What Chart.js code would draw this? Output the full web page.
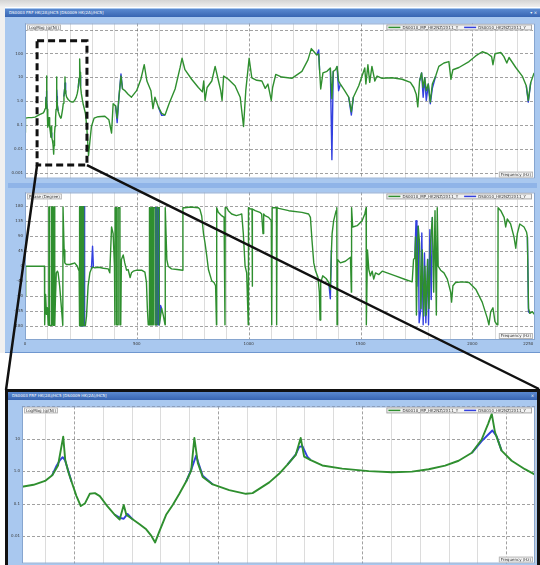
<!DOCTYPE html>
<html lang="en">
<head>
<meta charset="utf-8">
<title>FRF overlay</title>
<script src="https://cdn.jsdelivr.net/npm/chart.js@4.4.1/dist/chart.umd.min.js"></script>
<style>
  html, body { margin: 0; padding: 0; }
  body { width: 540px; height: 565px; overflow: hidden; background: #fff; position: relative; font-family: "DejaVu Sans", sans-serif; }
  .abs { position: absolute; }
  #topBand { left: 0; top: 0; width: 540px; height: 7px; background: linear-gradient(#d4d4d4, #efefef); }
  #sideBand { left: 0; top: 7px; width: 5px; height: 346px; background: #f0f0f0; }
  #win { left: 5px; top: 8px; width: 535px; height: 345px; background: #a9c8ef; border-bottom: 1px solid #6f97cf; box-sizing: border-box; }
  .bar { height: 8px; background: linear-gradient(#5a89d0, #3865b2); color: #fff; font-size: 4px; line-height: 8px; padding-left: 4px; box-sizing: border-box; white-space: nowrap; }
  .bar span { position: absolute; right: 3px; top: 0; }
  #winBar { left: 5px; top: 9px; width: 535px; }
  #sep { left: 8px; top: 183px; width: 529px; height: 5px; background: #8fb4e8; }
  #inset { left: 5px; top: 389px; width: 535px; height: 200px; border: 3px solid #111; background: #a9c8ef; box-sizing: border-box; }
  #insetBar { left: 8px; top: 392px; width: 529px; }
  #overlay { left: 0; top: 0; pointer-events: none; }
</style>
</head>
<body>
<div class="abs" id="topBand"></div>
<div class="abs" id="sideBand"></div>
<div class="abs" id="win"></div>
<div class="abs bar" id="winBar">DS0003 FRF HK(2A)/HC5 [DS0009 HK(2A)/HC5]<span>▾ ×</span></div>
<canvas class="abs" id="magChart" width="529" height="164" style="left:8px;top:19px"></canvas>
<div class="abs" id="sep"></div>
<canvas class="abs" id="phaseChart" width="529" height="163" style="left:8px;top:188px"></canvas>
<div class="abs" id="inset"></div>
<div class="abs bar" id="insetBar">DS0003 FRF HK(2A)/HC5 [DS0009 HK(2A)/HC5]<span>×</span></div>
<canvas class="abs" id="zoomChart" width="529" height="166" style="left:8px;top:402px"></canvas>
<canvas class="abs" id="overlay" width="540" height="565"></canvas>

<script>
// series names
const greenName = "DS0010_MP_HK2NZ/2X11_Y";
const blueName = "DS0010_HK2NZ/2X11_Y";

// LogMag trace (green), frequency in Hz
const magFreq = [
  0, 2, 15, 30, 45, 55, 65, 75, 82, 86,
  90, 92.5, 94.5, 96.3, 97, 98.1, 99.2, 100.9, 102.4, 103.8,
  105.5, 107.3, 109, 111.3, 114.2, 115.9, 117.3, 118.2, 120.5, 122.8,
  125.1, 126.9, 128.2, 129.7, 132, 134.3, 136.6, 138.9, 140.7, 141.8,
  143, 144.7, 148.2, 153.9, 159.7, 162, 167.8, 171.2, 174.1, 177,
  178.7, 179.9, 182.2, 186.2, 193.1, 202.3, 210.4, 217.3, 223.1, 228.8,
  233.5, 238.1, 241.5, 243.8, 245, 246.1, 248.4, 251.9, 256.5, 260.5,
  270, 276, 284, 291, 297, 309, 327, 357, 375, 387,
  394, 405, 412, 420, 429, 436, 447, 461, 476, 499,
  518, 533, 545, 563, 572, 581, 596, 611, 626, 644,
  671, 693, 702, 715, 745, 775, 793, 799, 805, 814,
  835, 850, 865, 875, 881, 888, 909, 939, 962, 977,
  987, 1002, 1014, 1036, 1059, 1074, 1086, 1101, 1107, 1121,
  1148, 1193, 1238, 1265, 1280, 1292, 1304, 1313, 1317, 1322,
  1332, 1350, 1365, 1372, 1378, 1388, 1395, 1402, 1410, 1429,
  1447, 1459, 1468, 1492, 1519, 1524, 1533, 1541, 1551, 1564,
  1574, 1596, 1641, 1686, 1723, 1738, 1749, 1756, 1764, 1773,
  1780, 1787, 1794, 1803, 1812, 1821, 1836, 1850, 1873, 1895,
  1904, 1913, 1940, 1985, 2015, 2044, 2067, 2086, 2092, 2101,
  2127, 2141, 2154, 2164, 2194, 2223, 2241, 2250, 2261, 2276
];
const magGreen = [
  0.05, 0.2, 0.21, 0.21, 0.22, 0.25, 0.28, 0.31, 0.33, 0.38,
  0.5, 0.75, 1.5, 11.6, 2.2, 0.93, 0.47, 0.17, 0.084, 0.1,
  0.2, 0.21, 0.17, 0.09, 0.045, 0.032, 0.09, 0.045, 0.032, 0.023,
  0.016, 0.01, 0.0063, 0.014, 0.045, 0.09, 0.2, 0.47, 1.04, 10.6,
  1.8, 0.66, 0.39, 0.26, 0.2, 0.21, 0.45, 0.83, 1.6, 3.2,
  10.6, 2.8, 2.2, 1.5, 1.2, 1.0, 0.93, 0.97, 1.15, 1.48,
  2.1, 3.7, 9.5, 30, 59, 16, 4.3, 2.1, 1.15, 0.74,
  0.32, 0.09, 0.0055, 0.026, 0.09, 0.2, 0.23, 0.24, 0.17, 0.048,
  0.8, 0.65, 0.2, 1.5, 11.4, 3.3, 2.8, 2.0, 1.5, 2.8,
  8.4, 34, 7.1, 2.8, 0.5, 1.5, 0.59, 0.32, 0.27, 0.8,
  3.3, 25, 63, 21, 8.4, 3.8, 2.5, 7.1, 1.1, 3.8,
  7.1, 29, 7.1, 2.8, 1.1, 11.4, 8.4, 4.5, 1.5, 0.09,
  2.8, 63, 9.7, 7.6, 7.1, 3.5, 5.3, 1.1, 3.8, 13.3,
  10.4, 9.2, 18, 54, 160, 118, 87, 95, 20, 3.3,
  15.5, 18, 25, 1.3, 18, 21, 29, 7.1, 5.3, 2.8,
  1.5, 0.37, 1.5, 4.5, 25, 5.3, 34, 6.2, 29, 7.1,
  11.4, 9.2, 9.7, 8.4, 6.2, 3.8, 2.0, 0.59, 7.1, 15.5,
  3.8, 9.7, 2.8, 5.3, 0.94, 5.3, 11.4, 29, 40, 46,
  8.4, 21, 26, 46, 79, 118, 100, 74, 34, 97,
  110, 74, 40, 68, 26, 11.4, 4.5, 1.1, 6.2, 15.5
];
// blue trace lies under the green one; only the stretches where it parts from it (null = gap)
const magBlueFreq = [
  92.5, 94, 95.2, 96.1, 96.9, 98.1, 99.2, null,
  114.2, 116, 117.3, 118.6, 120.5, null,
  138.9, 140.7, 142.4, 143.4, 144.7, 148.2, null,
  174.1, 177, 178.2, 179.3, 181, 182.2, null,
  238.1, 241.5, 243.8, 245.2, 246.7, 248.4, null,
  405, 412, 420, 429, 436, null,
  596, 611, 626, null,
  1304, 1313, 1317, null,
  1365, 1372, 1378, null,
  1395, 1402, 1410, null,
  1447, 1459, 1468, null,
  1764, 1773, 1780, 1787, 1794, 1803, 1812, 1821, 1836, null,
  2241, 2250, 2261
];
const magBlue = [
  0.75, 1.48, 2.2, 2.7, 2.2, 1.0, 0.47, null,
  0.045, 0.036, 0.034, 0.048, 0.032, null,
  0.47, 1.1, 3.0, 1.6, 0.72, 0.39, null,
  1.6, 3.3, 5.6, 5.9, 2.8, 2.2, null,
  3.7, 8.5, 13.6, 18, 12, 4.3, null,
  0.65, 0.13, 1.5, 14, 3.3, null,
  0.59, 0.26, 0.27, null,
  87, 140, 20, null,
  25, 0.0037, 18, null,
  29, 2.8, 5.3, null,
  1.5, 0.27, 1.5, null,
  7.1, 15.5, 1.5, 9.7, 1.1, 5.3, 0.8, 3.5, 11.4, null,
  4.5, 0.94, 6.2
];

// Phase trace (green), degrees
const phaseFreq = [
  0, 3, 20, 40, 60, 80, 87, 88, 92, 96,
  100, 104, 106, 107, 109, 110, 118, 119, 124, 125,
  128, 129, 132, 133, 136, 140, 145, 148, 155, 163,
  169, 170, 175, 178, 185, 200, 215, 222, 234, 240,
  242, 242.5, 243, 245, 245.5, 248, 248.5, 252, 252.5, 256,
  256.5, 262, 262.5, 270, 275, 282, 290, 297, 302, 312,
  330, 350, 372, 379, 383, 387, 394, 400, 402, 403,
  409, 409.5, 416, 416.5, 424, 424.5, 428, 431, 439, 446,
  454, 461, 470, 476, 484, 500, 521, 536, 543, 547,
  551, 556, 556.5, 559, 559.5, 565, 565.5, 569, 569.5, 573,
  573.5, 581, 581.5, 590, 590.5, 600, 600.5, 611, 618, 626,
  627, 634, 640, 655, 680, 705, 706, 715, 740, 775,
  782, 790, 798, 805, 812, 820, 835, 845, 852, 856,
  857, 864, 879, 890, 894, 895, 902, 909, 924, 945,
  960, 969, 976, 984, 991, 998, 999, 1008, 1015, 1016,
  1017, 1029, 1050, 1058, 1064, 1067, 1073, 1089, 1101, 1103,
  1105, 1124, 1125, 1127, 1134, 1179, 1238, 1268, 1276, 1283,
  1291, 1298, 1310, 1316, 1319, 1322, 1331, 1346, 1358, 1365,
  1370, 1373, 1380, 1391, 1394, 1395, 1397, 1410, 1432, 1455,
  1459, 1460, 1465, 1485, 1507, 1519, 1525, 1526, 1531, 1537,
  1544, 1552, 1559, 1567, 1582, 1597, 1656, 1700, 1731, 1737,
  1743, 1746, 1750, 1755, 1758, 1764, 1770, 1776, 1783, 1788,
  1794, 1800, 1806, 1813, 1821, 1827, 1833, 1839, 1843, 1847,
  1858, 1873, 1888, 1903, 1907, 1913, 1925, 1955, 1985, 2015,
  2044, 2067, 2074, 2082, 2092, 2101, 2110, 2114, 2115, 2127,
  2142, 2149, 2156, 2171, 2186, 2194, 2201, 2212, 2231, 2242,
  2246, 2251, 2257, 2268, 2280
];
const phaseGreen = [
  -90, 0, 0, 0, 0, 0, 0, -176, -85, -145,
  -125, -176, -178, 178, 178, -178, -178, 178, 178, -178,
  -178, 178, 178, -178, -100, -20, -15, -20, -60, -127,
  -178, 178, 49, 10, 5, 5, 8, 10, 0, -12,
  -14, -179, 179, 179, -179, -179, 179, 179, -179, -179,
  179, 179, -179, -178, -150, -60, -20, -8, -3, -5,
  -3, -6, -8, -20, 49, 118, 98, 0, -176, 176,
  176, -176, -176, 176, 176, -176, -176, 20, 34, 10,
  -12, -10, -34, -20, -15, -12, -12, -18, -49, -127,
  -176, -176, 176, 176, -176, -176, 176, 176, -176, -176,
  176, 176, -176, -176, 176, 176, -176, -127, -147, -176,
  176, 20, 0, -8, -10, -12, 176, 176, 178, 176,
  171, 151, 98, 69, 34, -10, -44, -49, -59, -176,
  176, 162, 152, 147, -176, 176, 176, 167, 157, 152,
  155, 157, 98, 0, -20, -176, 176, 172, 172, -60,
  172, 167, 162, 157, 98, 157, 152, 147, 137, -176,
  176, 176, -176, 176, 174, 167, 162, 157, 147, 78,
  10, -12, -34, -78, -162, -49, -29, -37, -49, -70,
  49, 98, 137, 167, 176, -176, 20, 10, 15, 27,
  -78, 176, 118, 122, 137, 157, 176, -176, 49, -10,
  -29, -15, -39, -20, -25, -15, -29, -40, -47, 20,
  25, 88, -147, 59, 120, 69, -127, 49, -150, 0,
  -147, 20, -127, 69, 147, -78, 167, -147, 176, 0,
  -12, -20, -39, -78, -108, -59, -49, -47, -49, -69,
  -108, -157, -176, -137, -125, -167, -176, -176, 176, 167,
  147, 118, 142, 127, 88, 54, 98, 127, 118, 103,
  88, -127, -142, -137, -147
];
const phaseBlueFreq = [
  245, 250, 250.5, 255, 255.5, 259, 259.5, 263, 263.5, 266, 266.5, 270, null,
  297, 302, 306, null,
  581, 584, 584.5, 588, 588.5, 593, 593.5, 597, 597.5, 600, 600.5, 606, 611, null,
  1358, 1365, 1370, null,
  1743, 1748, 1752, 1758, 1762, 1770, 1774, 1780, 1786, 1792, 1800, 1804, 1810, 1816, 1821, null,
  2246, 2251, 2257
];
const phaseBlue = [
  179, 179, -179, -179, 179, 179, -179, -179, 179, 179, -179, -178, null,
  -8, 60, -4, null,
  176, 176, -176, -176, 176, 176, -176, -176, 176, 176, -176, -118, -127, null,
  -49, -98, 49, null,
  25, 137, -60, 120, -170, -127, 100, -176, 40, -170, 20, -176, 110, -100, 147, null,
  88, -137, -142
];

// axis ticks and labels
const freqLabels = [0, 500, 1000, 1500, 2000, 2250];
const magTicks = [0.001, 0.01, 0.1, 1, 10, 100, 1000];
const magTickLabels = ["0.001", "0.01", "0.1", "1.0", "10", "100", ""];
const phaseTicks = [-180, -135, -90, -45, 0, 45, 90, 135, 180];
const zoomTicks = [0.01, 0.1, 1, 10, 100];
const zoomTickLabels = ["0.01", "0.1", "1.0", "10", ""];

// zoomed region marked on the overview, and the range of the inset
const zoomBox = { from: 54, to: 277, high: 340, low: 0.0022 };
const zoomRange = { from: 82, to: 260 };

const GREEN = "#2f8f2f";
const BLUE = "#3340df";
const MAJOR = "rgba(110,110,110,0.65)";
const MINOR = "rgba(205,205,205,0.7)";

Chart.defaults.font.family = '"DejaVu Sans", sans-serif';
Chart.defaults.font.size = 4;
Chart.defaults.color = "#3a3a3a";

function toPoints(fs, vs) {
  return fs.map((f, i) => ({ x: f, y: vs[i] }));
}

function isMultiple(v, step) {
  return Math.abs(Math.round(v / step) * step - v) < 1e-6;
}

function drawTag(ctx, text, x, y) {
  const w = ctx.measureText(text).width + 4;
  ctx.fillStyle = "#f6f6f6";
  ctx.fillRect(x, y, w, 6);
  ctx.strokeStyle = "#b8b8b8";
  ctx.strokeRect(x + 0.5, y + 0.5, w - 1, 5);
  ctx.fillStyle = "#333";
  ctx.fillText(text, x + 2, y + 3.2);
}

// blue panel round a white plot area, grid, axis title, frequency tag and legend box
const panelDecor = {
  id: "panelDecor",
  beforeDraw(chart) {
    const { ctx, chartArea: a, width, height } = chart;
    ctx.save();
    ctx.fillStyle = "#a9c8ef";
    ctx.fillRect(0, 0, width, height);
    ctx.fillStyle = "#ffffff";
    ctx.fillRect(a.left, a.top, a.right - a.left, a.bottom - a.top);
    ctx.restore();
  },
  beforeDatasetsDraw(chart, args, opts) {
    const { ctx, chartArea: a, scales } = chart;
    ctx.save();
    ctx.lineWidth = 1;
    // minor lines first, dashed major lines on top
    [false, true].forEach(pass => {
      scales.x.ticks.forEach(t => {
        if (!isMultiple(t.value, opts.xStep)) return;
        const major = isMultiple(t.value, opts.xMajor);
        if (major !== pass) return;
        const px = Math.round(scales.x.getPixelForValue(t.value)) + 0.5;
        ctx.strokeStyle = major ? MAJOR : MINOR;
        ctx.setLineDash(major ? [3, 2] : []);
        ctx.beginPath();
        ctx.moveTo(px, a.top);
        ctx.lineTo(px, a.bottom);
        ctx.stroke();
      });
    });
    ctx.strokeStyle = MAJOR;
    ctx.setLineDash([3, 2]);
    scales.y.ticks.forEach(t => {
      const py = Math.round(scales.y.getPixelForValue(t.value)) + 0.5;
      ctx.beginPath();
      ctx.moveTo(a.left, py);
      ctx.lineTo(a.right, py);
      ctx.stroke();
    });
    ctx.restore();
  },
  afterDraw(chart, args, opts) {
    const { ctx, chartArea: a } = chart;
    ctx.save();
    ctx.lineWidth = 1;
    ctx.strokeStyle = "#86a5cf";
    ctx.strokeRect(a.left + 0.5, a.top + 0.5, a.right - a.left - 1, a.bottom - a.top - 1);
    ctx.font = '4px "DejaVu Sans"';
    ctx.textBaseline = "middle";
    drawTag(ctx, opts.yTitle, a.left + 2, a.top + 1);
    const xw = ctx.measureText(opts.xTitle).width + 4;
    drawTag(ctx, opts.xTitle, a.right - xw - 2, a.bottom - 7);

    const items = chart.data.datasets.map(d => ({ text: d.label, color: d.borderColor }));
    let total = 2;
    items.forEach(it => { total += 12 + 2 + ctx.measureText(it.text).width + 6; });
    let x = a.right - total - 3;
    const y = a.top + 1;
    ctx.fillStyle = "#f3f3f3";
    ctx.fillRect(x, y, total, 6);
    ctx.strokeStyle = "#a8a8a8";
    ctx.strokeRect(x + 0.5, y + 0.5, total - 1, 5);
    x += 2;
    items.forEach(it => {
      ctx.strokeStyle = it.color;
      ctx.lineWidth = 1.5;
      ctx.beginPath();
      ctx.moveTo(x, y + 3);
      ctx.lineTo(x + 12, y + 3);
      ctx.stroke();
      ctx.fillStyle = "#333";
      ctx.fillText(it.text, x + 14, y + 3.2);
      x += 12 + 2 + ctx.measureText(it.text).width + 6;
    });
    ctx.restore();
  }
};

function freqAxis(min, max, step, labels, height) {
  return {
    type: "linear",
    min: min,
    max: max,
    afterBuildTicks(scale) {
      const t = [];
      for (let v = Math.ceil(min / step) * step; v <= max + 1e-6; v += step) t.push({ value: Math.round(v * 100) / 100 });
      labels.forEach(v => { if (!t.some(k => k.value === v)) t.push({ value: v }); });
      t.sort((p, q) => p.value - q.value);
      scale.ticks = t;
    },
    afterFit(scale) { scale.height = height; },
    ticks: {
      display: labels.length > 0,
      autoSkip: false,
      maxRotation: 0,
      padding: 2,
      callback: v => (labels.includes(v) ? String(v) : "")
    },
    grid: { display: false, drawTicks: false },
    border: { display: false }
  };
}

function valueAxis(type, min, max, values, labels, width) {
  return {
    type: type,
    min: min,
    max: max,
    afterBuildTicks(scale) { scale.ticks = values.map(v => ({ value: v })); },
    afterFit(scale) { scale.width = width; },
    ticks: { autoSkip: false, padding: 2, callback: v => labels[values.indexOf(v)] ?? "" },
    grid: { display: false, drawTicks: false },
    border: { display: false }
  };
}

function lineSet(label, color, points, width) {
  return {
    label: label,
    data: points,
    borderColor: color,
    backgroundColor: color,
    borderWidth: width,
    pointRadius: 0,
    tension: 0,
    spanGaps: false,
    borderJoinStyle: "round"
  };
}

function panel(id, datasets, scales, yTitle, xStep, xMajor) {
  return new Chart(document.getElementById(id), {
    type: "line",
    data: { datasets: datasets },
    options: {
      responsive: false,
      animation: false,
      events: [],
      layout: { padding: { top: 1, right: 2, bottom: 1, left: 0 } },
      plugins: {
        legend: { display: false },
        tooltip: { enabled: false },
        panelDecor: { yTitle: yTitle, xTitle: "Frequency (Hz)", xStep: xStep, xMajor: xMajor }
      },
      scales: scales
    },
    plugins: [panelDecor]
  });
}

const magChart = panel("magChart", [
  lineSet(greenName, GREEN, toPoints(magFreq, magGreen), 1.4),
  lineSet(blueName, BLUE, toPoints(magBlueFreq, magBlue), 1.4)
], {
  x: freqAxis(0, 2280, 100, [], 1),
  y: valueAxis("logarithmic", 0.0006, 1800, magTicks, magTickLabels, 17)
}, "LogMag (g/(N))", 100, 500);

const phaseChart = panel("phaseChart", [
  lineSet(greenName, GREEN, toPoints(phaseFreq, phaseGreen), 1.4),
  lineSet(blueName, BLUE, toPoints(phaseBlueFreq, phaseBlue), 1.4)
], {
  x: freqAxis(0, 2280, 100, freqLabels, 10),
  y: valueAxis("linear", -222, 222, phaseTicks, phaseTicks.map(String), 17)
}, "Phase (Degree)", 100, 500);

const zoomChart = panel("zoomChart", [
  lineSet(greenName, GREEN, toPoints(magFreq, magGreen), 1.9),
  lineSet(blueName, BLUE, toPoints(magBlueFreq, magBlue), 1.9)
], {
  x: freqAxis(zoomRange.from, zoomRange.to, 10, [], 0),
  y: valueAxis("logarithmic", 0.0014, 100, zoomTicks, zoomTickLabels, 14)
}, "LogMag (g/(N))", 10, 50);

// dashed zoom box on the overview and the two lines to the inset window
function drawCallout() {
  const overlay = document.getElementById("overlay");
  const dpr = window.devicePixelRatio || 1;
  overlay.width = 540 * dpr;
  overlay.height = 565 * dpr;
  overlay.style.width = "540px";
  overlay.style.height = "565px";
  const ctx = overlay.getContext("2d");
  ctx.scale(dpr, dpr);

  const c = magChart.canvas.getBoundingClientRect();
  const xs = magChart.scales.x;
  const ys = magChart.scales.y;
  const left = c.left + xs.getPixelForValue(zoomBox.from);
  const right = c.left + xs.getPixelForValue(zoomBox.to);
  const top = c.top + ys.getPixelForValue(zoomBox.high);
  const bottom = c.top + ys.getPixelForValue(zoomBox.low);

  const inset = document.getElementById("inset").getBoundingClientRect();

  ctx.strokeStyle = "#111";
  ctx.lineWidth = 3;
  ctx.setLineDash([7, 4]);
  ctx.strokeRect(left, top, right - left, bottom - top);

  ctx.setLineDash([]);
  ctx.lineWidth = 2.5;
  ctx.beginPath();
  ctx.moveTo(left, bottom);
  ctx.lineTo(inset.left + 1, inset.top + 1);
  ctx.moveTo(right, bottom);
  ctx.lineTo(inset.right - 1, inset.top);
  ctx.stroke();
}
drawCallout();
</script>
</body>
</html>
